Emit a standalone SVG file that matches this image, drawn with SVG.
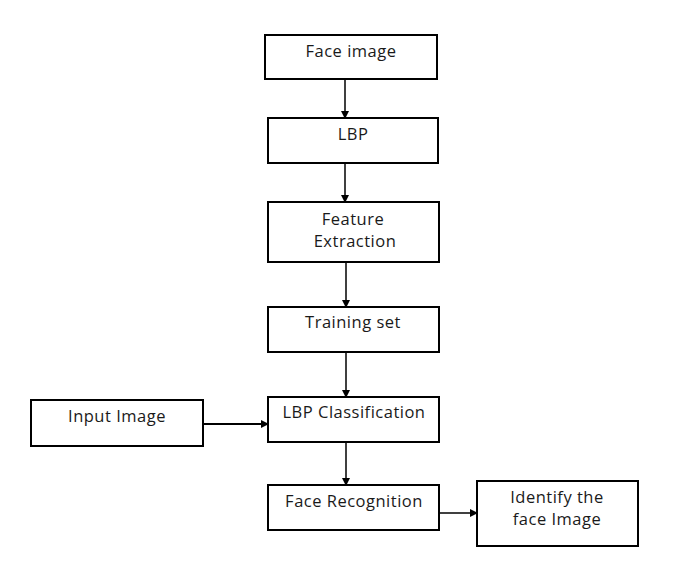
<svg xmlns="http://www.w3.org/2000/svg" width="680" height="562" viewBox="0 0 680 562">
<style>
.box{fill:#fff;stroke:#000;stroke-width:2}
.t{font-family:"Open Sans","Liberation Sans",sans-serif;font-size:16.5px;letter-spacing:0.5px;fill:#1a1a1a;text-anchor:middle}
.c{stroke:#000;stroke-width:1.5;fill:none;marker-end:url(#ah)}
</style>
<defs>
<marker id="ah" markerWidth="8" markerHeight="8" refX="7" refY="4" orient="auto" markerUnits="userSpaceOnUse">
<path d="M0,0 L8,4 L0,8 Z" fill="#000"/>
</marker>
</defs>
<rect width="680" height="562" fill="#fff"/>
<g id="connectors">
<line class="c" x1="345" y1="79" x2="345" y2="118"/>
<line class="c" x1="345" y1="163" x2="345" y2="202"/>
<line class="c" x1="346" y1="262" x2="346" y2="307"/>
<line class="c" x1="346" y1="352" x2="346" y2="397"/>
<line class="c" x1="203" y1="424" x2="268" y2="424" style="stroke-width:2"/>
<line class="c" x1="346" y1="442" x2="346" y2="485"/>
<line class="c" x1="439" y1="513" x2="477" y2="513"/>
</g>
<g id="face-image">
<rect class="box" x="265" y="35" width="172" height="44"/>
<text class="t" x="351" y="57">Face image</text>
</g>
<g id="lbp">
<rect class="box" x="268" y="118" width="170" height="45"/>
<text class="t" x="353" y="140">LBP</text>
</g>
<g id="feature-extraction">
<rect class="box" x="268" y="202" width="171" height="60"/>
<text class="t" x="353" y="225">Feature</text>
<text class="t" x="355" y="247">Extraction</text>
</g>
<g id="training-set">
<rect class="box" x="268" y="307" width="171" height="45"/>
<text class="t" x="353" y="328">Training set</text>
</g>
<g id="input-image">
<rect class="box" x="31" y="400" width="172" height="46"/>
<text class="t" x="117" y="422">Input Image</text>
</g>
<g id="lbp-classification">
<rect class="box" x="268" y="397" width="171" height="45"/>
<text class="t" x="354" y="418">LBP Classification</text>
</g>
<g id="face-recognition">
<rect class="box" x="268" y="485" width="171" height="45"/>
<text class="t" x="354" y="507">Face Recognition</text>
</g>
<g id="identify">
<rect class="box" x="477" y="481" width="161" height="65"/>
<text class="t" x="557" y="503">Identify the</text>
<text class="t" x="557" y="525">face Image</text>
</g>
</svg>
